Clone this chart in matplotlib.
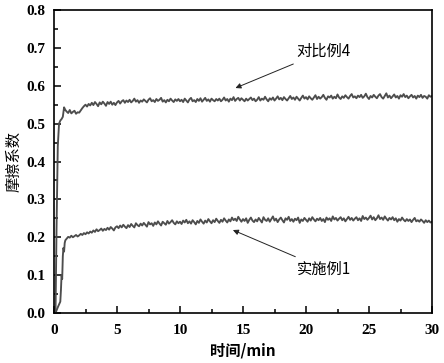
import numpy as np
import matplotlib
matplotlib.use("Agg")
import matplotlib.pyplot as plt
from matplotlib.ticker import MultipleLocator

# ---- data ----
# start-up segment (time in min, friction coefficient)
start_t_a = [0.0, 0.12, 0.2, 0.3, 0.4, 0.5, 0.6, 0.7, 0.8, 0.9]
start_y_a = [0.0, 0.0, 0.22, 0.44, 0.50, 0.508, 0.512, 0.518, 0.543, 0.536]
start_t_b = [0.0, 0.12, 0.3, 0.5, 0.55, 0.6, 0.65, 0.7, 0.75, 0.8, 0.85, 0.9]
start_y_b = [0.0, 0.0, 0.015, 0.03, 0.06, 0.10, 0.09, 0.15, 0.172, 0.162, 0.185, 0.192]

# steady segment, sampled every 0.125 min from 1.0 to 30.0 (values x 0.001)
plateau_t = np.arange(1.0, 30.0001, 0.125)
plateau_a_milli = [
    532, 528, 536, 527, 531, 534, 526, 530,
    529, 535, 541, 546, 550, 545, 552, 548,
    555, 549, 557, 552, 546, 556, 551, 558,
    553, 547, 557, 552, 558, 550, 555, 549,
    556, 560, 553, 559, 562, 555, 561, 557,
    563, 556, 560, 566, 558, 562, 555, 561,
    558, 564, 560, 556, 563, 567, 559, 562,
    557, 565, 560, 563, 568, 558, 562, 556,
    563, 559, 566, 561, 557, 564, 560, 565,
    559, 563, 557, 566, 561, 556, 564, 568,
    559, 562, 557, 565, 560, 567, 558, 563,
    568, 560, 564, 558, 566, 562, 559, 565,
    561, 566, 559, 563, 569, 561, 565, 558,
    566, 562, 570, 560, 565, 568, 561, 567,
    563, 559, 566, 561, 565, 569, 562, 566,
    559, 563, 570, 561, 566, 563, 571, 564,
    559, 567, 563, 569, 561, 566, 572, 564,
    568, 562, 570, 565, 561, 567, 573, 565,
    569, 563, 571, 566, 561, 568, 574, 566,
    570, 564, 572, 567, 563, 569, 575, 565,
    571, 566, 570, 576, 568, 563, 572, 569,
    574, 566, 571, 567, 577, 569, 565, 572,
    568, 575, 570, 566, 573, 578, 569, 572,
    567, 574, 570, 576, 568, 572, 579, 570,
    565, 573, 569, 576, 571, 567, 574, 578,
    570, 566, 573, 580, 569, 574, 567, 572,
    577, 569, 573, 566, 575, 571, 578, 570,
    574, 567, 572, 576, 569, 573, 566, 574,
    570, 576, 568, 573, 571, 566, 575, 571,
    573]
plateau_b_milli = [
    196, 201, 199, 204, 200, 203, 206, 202,
    205, 209, 206, 211, 208, 213, 210, 215,
    212, 218, 214, 221, 216, 219, 223, 217,
    222, 219, 225, 220, 227, 223, 218, 226,
    229, 224, 231, 226, 233, 228, 224, 232,
    227, 235, 230, 226, 237, 232, 229, 236,
    231, 238, 233, 228, 240, 234, 237, 230,
    239, 234, 242, 236, 231, 241, 237, 233,
    243, 236, 240, 245, 238, 234, 242, 237,
    241, 235, 244, 239, 246, 237, 242, 236,
    245, 240, 234, 243, 238, 247, 241, 236,
    244, 239, 248, 242, 237, 245, 240, 249,
    243, 238, 246, 241, 250, 244, 239, 247,
    242, 252, 245, 249, 243, 254, 247, 241,
    248, 243, 250, 238, 246, 252, 244, 240,
    247, 242, 251, 245, 239, 253, 246, 243,
    250, 241, 248, 255, 244, 249, 240, 247,
    252, 245, 239, 250, 246, 254, 243, 248,
    241, 249, 245, 252, 238, 247, 243, 251,
    246, 241, 250, 244, 253, 247, 242, 249,
    245, 251, 243, 248, 240, 252, 246, 250,
    243, 255, 247, 251, 244, 249, 253, 245,
    250, 242, 248, 254, 246, 251, 244, 249,
    253, 245, 250, 243, 256, 248, 252, 246,
    251, 257, 247, 253, 245, 250, 258, 248,
    252, 246, 255, 249, 244, 251, 247, 253,
    245, 250, 241, 248, 244, 252, 246, 242,
    248, 243, 247, 240, 246, 251, 242, 245,
    241, 247, 243, 238, 245, 240, 244, 239,
    241]

label_a = "对比例4"
label_b = "实施例1"
x_label = "时间/min"
y_label = "摩擦系数"

t_a = np.concatenate([start_t_a, plateau_t])
y_a = np.concatenate([start_y_a, np.array(plateau_a_milli) / 1000.0])
t_b = np.concatenate([start_t_b, plateau_t])
y_b = np.concatenate([start_y_b, np.array(plateau_b_milli) / 1000.0])

fig = plt.figure(figsize=(4.44, 3.63), dpi=100)
ax = fig.add_axes([54/444, 1-313/363, (432-54)/444, (313-10)/363])

line_color = "#4d4d4d"
ax.plot(t_a, y_a, color=line_color, lw=1.35)
ax.plot(t_b, y_b, color=line_color, lw=1.35)

ax.set_xlim(0, 30)
ax.set_ylim(0, 0.8)
ax.xaxis.set_major_locator(MultipleLocator(5))
ax.xaxis.set_minor_locator(MultipleLocator(2.5))
ax.yaxis.set_major_locator(MultipleLocator(0.1))
ax.yaxis.set_minor_locator(MultipleLocator(0.05))
ax.tick_params(which="both", direction="in", top=False, right=False, width=1.1)
ax.tick_params(which="major", length=5)
ax.tick_params(which="minor", length=3)
ax.tick_params(axis="x", which="major", pad=8)
ax.tick_params(axis="y", which="major", pad=6)
for s in ax.spines.values():
    s.set_linewidth(1.2)

ax.set_xticklabels([f"{v:g}" for v in ax.get_xticks()])
ax.set_yticklabels([f"{v:.1f}" for v in ax.get_yticks()])
for lab in ax.get_xticklabels() + ax.get_yticklabels():
    lab.set_fontfamily("Liberation Serif")
    lab.set_fontweight("bold")
    lab.set_fontsize(11)

cjk = ["Noto Sans CJK SC", "DejaVu Sans"]
ax.set_xlabel(x_label, family=cjk, fontweight="bold", fontsize=11, labelpad=4)
ax.set_ylabel(y_label, family=cjk, fontsize=11, labelpad=3)

ax.annotate(label_a, xy=(14.4, 0.594), xytext=(19.2, 0.690),
            family=cjk, fontsize=11, va="center", ha="left",
            arrowprops=dict(arrowstyle="-|>", color="#222222", lw=0.7,
                            mutation_scale=8, shrinkA=2, shrinkB=0))
ax.annotate(label_b, xy=(14.2, 0.219), xytext=(19.3, 0.116),
            family=cjk, fontsize=11, va="center", ha="left",
            arrowprops=dict(arrowstyle="-|>", color="#222222", lw=0.7,
                            mutation_scale=8, shrinkA=2, shrinkB=0))

fig.savefig("out.png", dpi=100)
